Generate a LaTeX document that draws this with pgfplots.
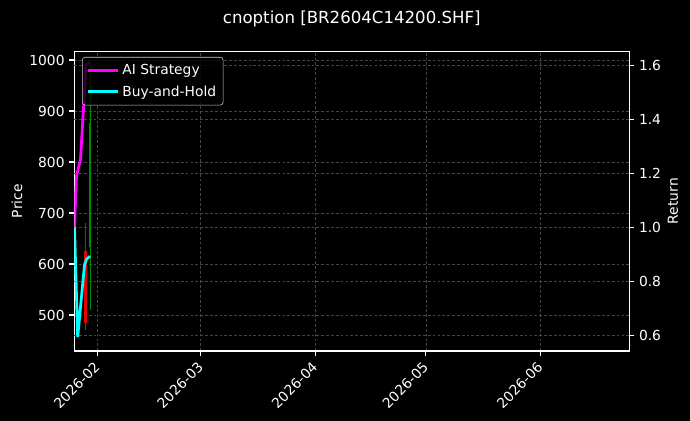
\documentclass[border=0pt]{standalone}
\usepackage{fontspec}
\setmainfont{DejaVu Sans}
\usepackage{pgfplots}
\pgfplotsset{compat=1.18}
\definecolor{candlered}{RGB}{235,0,0}
\definecolor{candlegreen}{RGB}{0,140,0}
\definecolor{aimag}{RGB}{255,0,255}
\definecolor{bhcyan}{RGB}{0,255,255}
\begin{document}
\begin{tikzpicture}
\path[fill=black, use as bounding box] (0,0) rectangle (6.9in,4.21in);
\pgfplotsset{
 every axis/.append style={
  scale only axis, width=5.55in, height=2.997in,
  at={(0.743in,0.70in)}, anchor=south west,
  xmin=-6.23, xmax=144.1,
  axis line style={white, line width=0.8pt},
  tick style={white, line width=0.8pt},
  tick align=outside, major tick length=3.5pt,
  ticklabel style={font=\fontsize{10}{12}\selectfont, text=white},
  label style={font=\fontsize{10}{12}\selectfont, text=white},
  /pgf/number format/assume math mode=true,
  grid style={white!27!black, line width=0.5pt, dash pattern=on 2pt off 1.5pt},
 }
}
\begin{axis}[
  ymin=429.4, ymax=1017,
  ytick={500,600,700,800,900,1000}, ytick pos=left, xtick pos=bottom,
  xtick={0,28,59,89,120},
  xticklabels={2026-02,2026-03,2026-04,2026-05,2026-06},
  xticklabel style={rotate=45, anchor=north east, inner sep=2pt, xshift=-2.5pt, yshift=1.5pt},
  xmajorgrids, ymajorgrids,
  /pgf/number format/1000 sep={},
  ylabel={Price},
  ylabel style={at={(axis description cs:-0.1032,0.5)}, anchor=center},
  title={cnoption [BR2604C14200.SHF]},
  title style={font=\fontsize{12}{14}\selectfont, text=white, at={(0.5,1)}, anchor=center, yshift=17.3pt},
]
\addplot[candlered, line width=0.7pt] coordinates {(-3.25,470) (-3.25,680)};
\addplot[candlered, line width=2.2pt] coordinates {(-3.25,484) (-3.25,625)};
\addplot[candlegreen, line width=0.7pt] coordinates {(-1.98,510) (-1.98,990)};
\addplot[candlegreen, line width=1.6pt] coordinates {(-1.98,633) (-1.98,876)};
\end{axis}
\begin{axis}[
  axis x line=none, axis y line*=right,
  ymin=0.541, ymax=1.651,
  ytick={0.6,0.8,1.0,1.2,1.4,1.6},
  yticklabel style={/pgf/number format/.cd, fixed, fixed zerofill, precision=1},
  ymajorgrids,
  ylabel={Return},
  ylabel style={at={(axis description cs:1.0787,0.5)}, anchor=center},
  legend style={at={(0.014,0.981)}, anchor=north west, fill=black, fill opacity=0.8, text opacity=1,
    draw=white!80!black, rounded corners=2pt, text=white, font=\fontsize{10}{12}\selectfont,
    inner xsep=3pt, inner ysep=3pt, row sep=2.5pt, nodes={inner sep=2pt}},
  legend cell align=left,
  legend image code/.code={\draw[#1, line width=2pt] (0pt,0pt) -- (22pt,0pt);},
]
\addplot[aimag, line width=2pt] coordinates {
 (-6.18,1.00) (-5.63,1.19) (-5.09,1.22) (-4.55,1.25) (-3.06,1.60) (-1.98,1.61)};
\addlegendentry{AI Strategy}
\addplot[bhcyan, line width=2pt] coordinates {
 (-6.18,1.00) (-5.31,0.593) (-3.47,0.859) (-2.93,0.881) (-1.98,0.892)};
\addlegendentry{Buy-and-Hold}
\end{axis}
\end{tikzpicture}
\end{document}
